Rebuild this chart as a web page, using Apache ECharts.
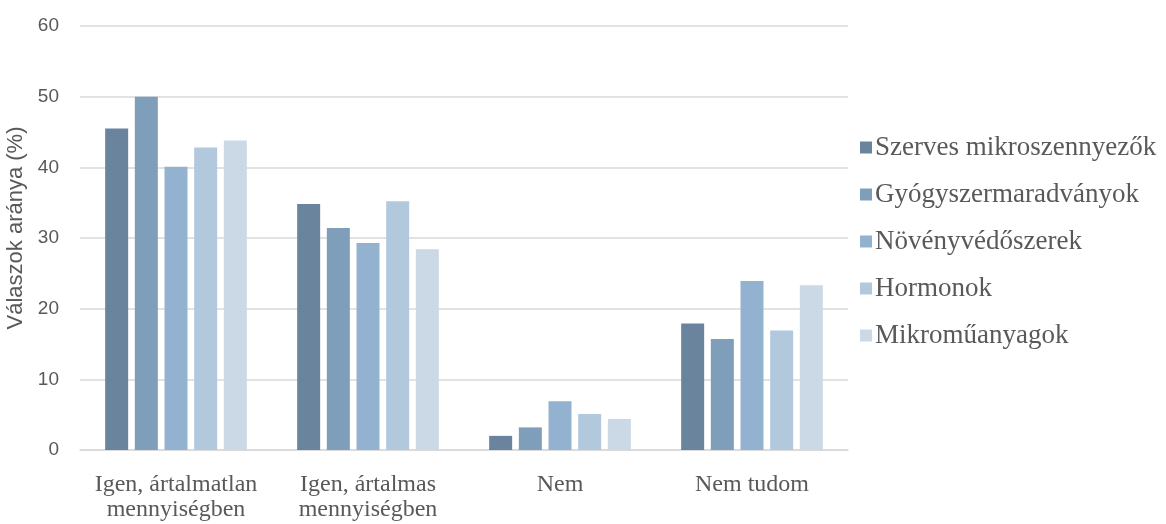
<!DOCTYPE html>
<html>
<head>
<meta charset="utf-8">
<script src="https://cdn.jsdelivr.net/npm/echarts@6/dist/echarts.min.js"></script>
<style>
  html, body { margin: 0; padding: 0; background: #ffffff; }
  #chart { width: 1166px; height: 524px; }
</style>
</head>
<body>
<div id="chart"></div>
<script>
// Response categories (x axis)
const categories = [
  'Igen, ártalmatlan\nmennyiségben',
  'Igen, ártalmas\nmennyiségben',
  'Nem',
  'Nem tudom'
];

// Share of answers (%) per pollutant group
const szervesMikroszennyezok = [45.5, 34.8, 2.0, 17.9];
const gyogyszermaradvanyok   = [50.0, 31.4, 3.2, 15.7];
const novenyvedoszerek       = [40.1, 29.3, 6.9, 23.9];
const hormonok               = [42.8, 35.2, 5.1, 16.9];
const mikromuanyagok         = [43.8, 28.4, 4.4, 23.3];

const seriesNames = [
  'Szerves mikroszennyezők',
  'Gyógyszermaradványok',
  'Növényvédőszerek',
  'Hormonok',
  'Mikroműanyagok'
];
const seriesValues = [
  szervesMikroszennyezok,
  gyogyszermaradvanyok,
  novenyvedoszerek,
  hormonok,
  mikromuanyagok
];
const colors = ['#6a849d', '#7f9eba', '#92b2d0', '#b2c8dc', '#cbd9e6'];

// Y axis range
const yMin = 0, yMax = 60, yStep = 10;

const chart = echarts.init(document.getElementById('chart'), null, { renderer: 'canvas' });

chart.setOption({
  animation: false,
  backgroundColor: '#ffffff',
  color: colors,
  grid: {
    left: 80, right: 318, top: 26, bottom: 74,
    containLabel: false,
    outerBoundsMode: 'none'
  },
  legend: {
    orient: 'vertical',
    left: 855,
    top: 129,
    itemWidth: 12,
    itemHeight: 12,
    itemGap: 20,
    icon: 'rect',
    textStyle: {
      fontFamily: '"Liberation Serif", "Times New Roman", serif',
      fontSize: 27,
      lineHeight: 26,
      color: '#595959',
      padding: [0, 0, 0, -2]
    },
    data: seriesNames
  },
  xAxis: {
    type: 'category',
    data: categories,
    axisLine: { show: true, lineStyle: { color: '#d9d9d9', width: 1.5 } },
    axisTick: { show: false },
    axisLabel: {
      margin: 22,
      interval: 0,
      fontFamily: '"Liberation Serif", "Times New Roman", serif',
      fontSize: 24,
      lineHeight: 25,
      color: '#595959'
    }
  },
  yAxis: {
    type: 'value',
    min: yMin,
    max: yMax,
    interval: yStep,
    name: 'Válaszok aránya (%)',
    nameLocation: 'middle',
    nameGap: 33,
    nameTextStyle: {
      fontFamily: '"Liberation Sans", Arial, sans-serif',
      fontSize: 22,
      color: '#595959',
      padding: [0, 0, 0, 20]
    },
    axisLine: { show: false },
    axisTick: { show: false },
    axisLabel: {
      margin: 21,
      fontFamily: '"Liberation Sans", Arial, sans-serif',
      fontSize: 19,
      color: '#595959'
    },
    splitLine: { lineStyle: { color: '#d9d9d9', width: 1.5 } }
  },
  series: seriesNames.map((name, i) => ({
    name: name,
    type: 'bar',
    data: seriesValues[i],
    barWidth: 23,
    barGap: '29%',
    itemStyle: { color: colors[i] }
  }))
});
</script>
</body>
</html>
